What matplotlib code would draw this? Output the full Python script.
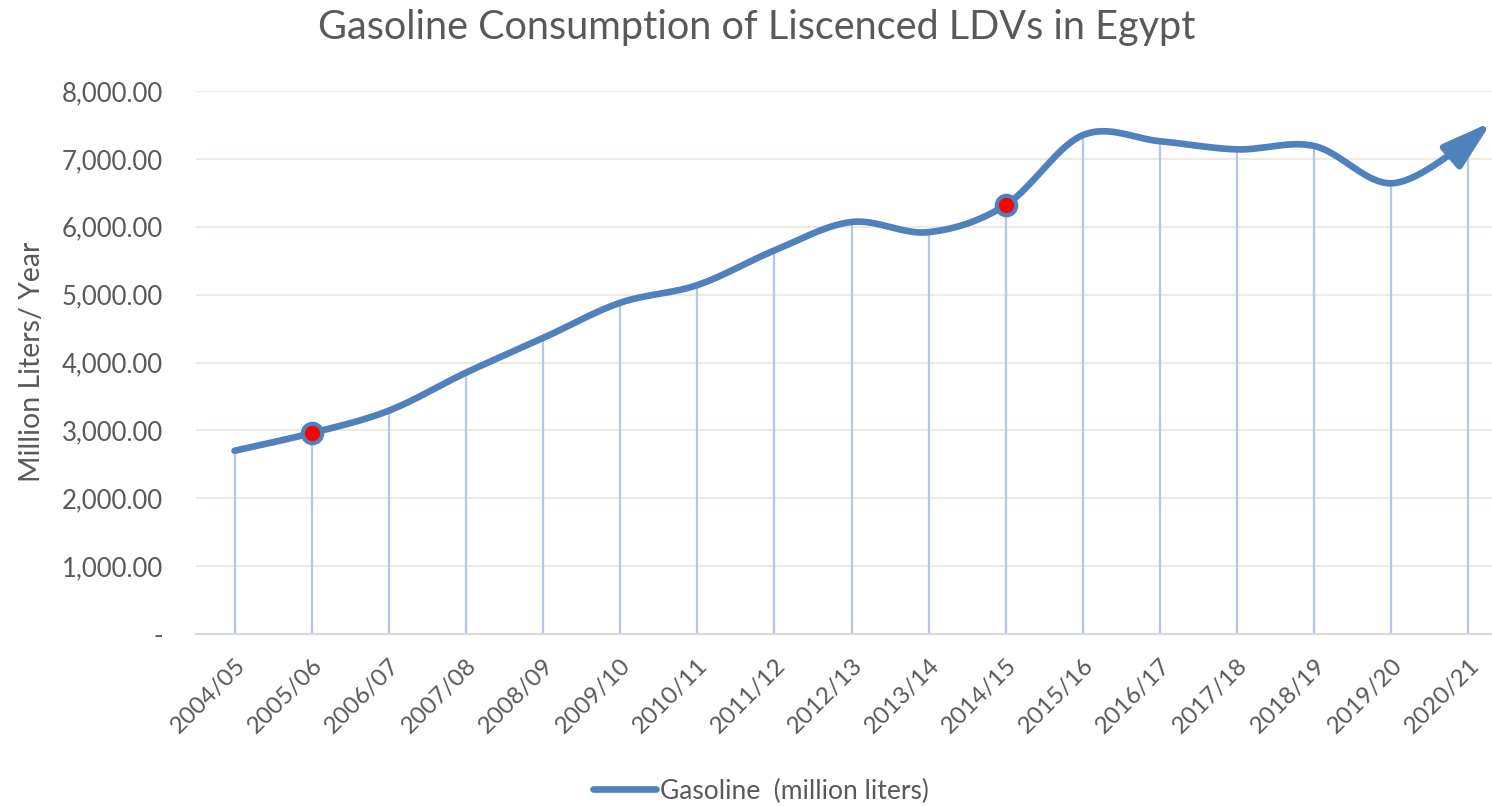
import numpy as np
import matplotlib.pyplot as plt

years = ["2004/05", "2005/06", "2006/07", "2007/08", "2008/09", "2009/10",
         "2010/11", "2011/12", "2012/13", "2013/14", "2014/15", "2015/16",
         "2016/17", "2017/18", "2018/19", "2019/20", "2020/21"]
gasoline = [2700, 2960, 3290, 3850, 4360, 4880, 5140, 5650, 6070, 5920,
            6320, 7350, 7260, 7140, 7190, 6640, 7250]
highlight = [1, 10]
yticks = [0, 1000, 2000, 3000, 4000, 5000, 6000, 7000, 8000]
ytick_labels = ["-", "1,000.00", "2,000.00", "3,000.00", "4,000.00",
                "5,000.00", "6,000.00", "7,000.00", "8,000.00"]

plt.rcParams['font.family'] = ['Lato', 'DejaVu Sans']
grey = '#595959'
blue = '#4F81BD'


def smooth_curve(x, y, n=40):
    # Catmull-Rom style bezier, like Excel's smoothed line
    x = np.asarray(x, float)
    y = np.asarray(y, float)
    px = np.concatenate([[x[0]], x, [x[-1]]])
    py = np.concatenate([[y[0]], y, [y[-1]]])
    xs, ys = [], []
    t = np.linspace(0, 1, n)
    for i in range(1, len(px) - 2):
        p0 = np.array([px[i], py[i]])
        p3 = np.array([px[i + 1], py[i + 1]])
        p1 = p0 + (np.array([px[i + 1], py[i + 1]]) - np.array([px[i - 1], py[i - 1]])) / 6
        p2 = p3 - (np.array([px[i + 2], py[i + 2]]) - np.array([px[i], py[i]])) / 6
        b = ((1 - t) ** 3)[:, None] * p0 + (3 * (1 - t) ** 2 * t)[:, None] * p1 \
            + (3 * (1 - t) * t ** 2)[:, None] * p2 + (t ** 3)[:, None] * p3
        xs.extend(b[:, 0])
        ys.extend(b[:, 1])
    return np.array(xs), np.array(ys)


fig = plt.figure(figsize=(14.92, 8.06), dpi=100)
ax = fig.add_axes([196 / 1492, 1 - 634 / 806, (1507 - 196) / 1492, (634 - 91) / 806])

x = np.arange(len(years))

ax.set_ylim(0, 8000)
ax.set_xlim(-0.5, len(years) - 0.5)
ax.set_yticks(yticks)
ax.set_yticklabels(ytick_labels)
ax.grid(axis='y', color='#EDEAE0', linewidth=1.5)
ax.set_axisbelow(True)
for s in ['top', 'right', 'left']:
    ax.spines[s].set_visible(False)
ax.spines['bottom'].set_color('#D9D9D9')
ax.spines['bottom'].set_linewidth(1.5)

# drop lines
ax.vlines(x, 0, gasoline, color='#B4C7E7', linewidth=1.6, zorder=2)

sx, sy = smooth_curve(x, gasoline)
ax.plot(sx, sy, color=blue, linewidth=4.8, solid_capstyle='round', zorder=3,
        label='Gasoline  (million liters)')

# arrow head at the end
ax.annotate('', xy=(x[-1] + 0.3, gasoline[-1] + 295), xytext=(x[-1] - 0.1, gasoline[-1] - 98),
            arrowprops=dict(arrowstyle='-|>,head_length=1.5,head_width=0.45', color=blue,
                            lw=4.8, mutation_scale=20, shrinkA=0, shrinkB=0),
            annotation_clip=False, zorder=4)

ax.plot(x[highlight], np.array(gasoline)[highlight], 'o', markersize=14,
        markerfacecolor='red', markeredgecolor=blue, markeredgewidth=3, zorder=5)

ax.set_xticks(x)
ax.set_xticklabels(years, rotation=45, ha='right', rotation_mode='anchor')
ax.tick_params(axis='x', length=0, pad=15, labelsize=17.5, labelcolor=grey)
ax.tick_params(axis='y', length=0, pad=24, labelsize=18.5, labelcolor=grey)

fig.text(32 / 1492, 1 - 362 / 806, "Million Liters/ Year", rotation=90, ha='center',
         va='center', fontsize=20.5, color=grey)
fig.suptitle("Gasoline Consumption of Liscenced LDVs in Egypt", x=757 / 1492,
             y=1 - 28 / 806, va='center', fontsize=28.5, color=grey)

leg = fig.legend(loc='center', bbox_to_anchor=(761 / 1492, 1 - 791 / 806), frameon=False,
                 fontsize=19, handlelength=2.4, handletextpad=0.15)
for t in leg.get_texts():
    t.set_color(grey)

fig.savefig('out.png', dpi=100)
